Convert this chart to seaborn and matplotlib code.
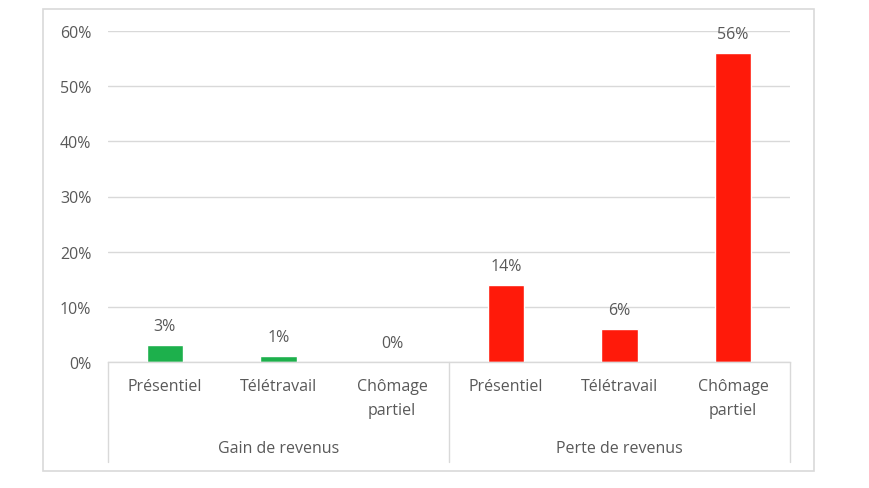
import matplotlib
matplotlib.use("Agg")
import matplotlib.pyplot as plt
import matplotlib.transforms as mtransforms
from matplotlib.patches import Rectangle
import seaborn as sns
import pandas as pd

groups = ["Gain de revenus", "Gain de revenus", "Gain de revenus",
          "Perte de revenus", "Perte de revenus", "Perte de revenus"]
categories = ["Présentiel", "Télétravail", "Chômage\npartiel",
              "Présentiel", "Télétravail", "Chômage\npartiel"]
values = [0.03, 0.01, 0.00, 0.14, 0.06, 0.56]
group_names = ["Gain de revenus", "Perte de revenus"]
colors = {"Gain de revenus": "#1DB04C", "Perte de revenus": "#FF1A0A"}

sns.set_theme(style="white")
plt.rcParams["font.family"] = ["Open Sans", "DejaVu Sans"]
text_col = "#595959"
grid_col = "#D9D9D9"
fs = 11.5

df = pd.DataFrame({"id": [f"{g}|{c}" for g, c in zip(groups, categories)],
                   "group": groups, "value": values})

W, H = 870, 489
fig = plt.figure(figsize=(W / 100, H / 100), dpi=100)
ax = fig.add_axes([108 / W, 1 - 363 / H, (790 - 108) / W, (363 - 32) / H])

sns.barplot(data=df, x="id", y="value", hue="group", palette=colors,
            dodge=False, width=0.32, legend=False, ax=ax, saturation=1)

ax.set_xlim(-0.5, 5.5)
ax.set_ylim(0, 0.6)
ax.set_yticks([0, 0.1, 0.2, 0.3, 0.4, 0.5, 0.6])
ax.set_yticklabels([f"{int(round(v * 100))}%" for v in ax.get_yticks()],
                   color=text_col, fontsize=fs)
ax.tick_params(axis="y", length=0, pad=12)
ax.set_xticks([])
ax.set_xlabel("")
ax.set_ylabel("")
ax.grid(axis="y", color=grid_col, linewidth=1)
ax.set_axisbelow(True)
for s in ["top", "right", "left"]:
    ax.spines[s].set_visible(False)
ax.spines["bottom"].set_color(grid_col)
ax.spines["bottom"].set_linewidth(1)

for cont in ax.containers:
    ax.bar_label(cont, labels=[f"{int(round(v * 100))}%" for v in cont.datavalues],
                 padding=8, color=text_col, fontsize=fs)

px = 331.0
trans = mtransforms.blended_transform_factory(ax.transData, ax.transAxes)
for i, c in enumerate(categories):
    for li, line in enumerate(c.split("\n")):
        ax.text(i, -(24 + 24 * li) / px, line, transform=trans, ha="center",
                va="center", color=text_col, fontsize=fs)
for gi, g in enumerate(group_names):
    ax.text(gi * 3 + 1, -86 / px, g, transform=trans, ha="center", va="center",
            color=text_col, fontsize=fs)
for xs in [-0.5, 2.5, 5.5]:
    ax.plot([xs, xs], [0, -100 / px], transform=trans, color=grid_col,
            linewidth=1, clip_on=False)

fig.patches.append(Rectangle((43 / W, 1 - 472 / H), (814 - 43) / W, (472 - 10) / H,
                             transform=fig.transFigure, fill=False,
                             edgecolor=grid_col, linewidth=1.2))

fig.savefig("out.png", dpi=100)
